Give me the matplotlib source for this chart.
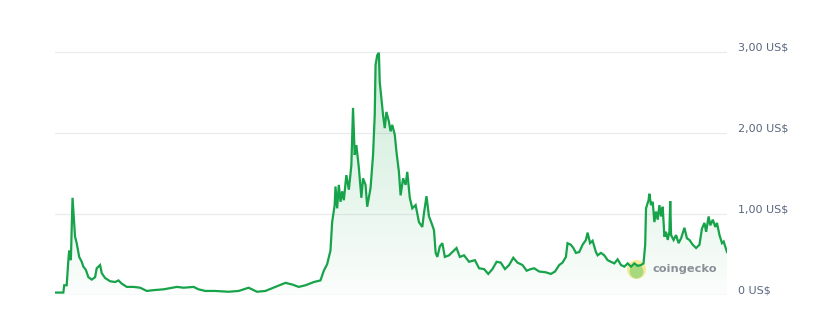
import numpy as np
import matplotlib.pyplot as plt
from matplotlib.transforms import blended_transform_factory

# price history (decimal year, price in US$)
years = [2017.80, 2017.90, 2017.91, 2017.94, 2017.96, 2017.97, 2017.99, 2018.01, 2018.03, 2018.04,
         2018.06, 2018.09, 2018.12, 2018.14, 2018.17, 2018.20, 2018.24, 2018.28, 2018.30, 2018.34,
         2018.36, 2018.40, 2018.46, 2018.52, 2018.56, 2018.60, 2018.66, 2018.74, 2018.82, 2018.90,
         2018.98, 2019.10, 2019.26, 2019.34, 2019.46, 2019.52, 2019.60, 2019.72, 2019.88, 2020.00,
         2020.12, 2020.22, 2020.32, 2020.44, 2020.56, 2020.64, 2020.72, 2020.80, 2020.90, 2020.98,
         2021.02, 2021.06, 2021.10, 2021.12, 2021.15, 2021.16, 2021.18, 2021.20, 2021.22, 2021.24,
         2021.26, 2021.29, 2021.32, 2021.35, 2021.37, 2021.39, 2021.41, 2021.44, 2021.47, 2021.49,
         2021.52, 2021.54, 2021.58, 2021.61, 2021.63, 2021.64, 2021.66, 2021.68, 2021.69, 2021.71,
         2021.73, 2021.75, 2021.77, 2021.80, 2021.82, 2021.84, 2021.87, 2021.89, 2021.92, 2021.94,
         2021.97, 2022.00, 2022.02, 2022.05, 2022.08, 2022.12, 2022.16, 2022.20, 2022.22, 2022.25,
         2022.28, 2022.31, 2022.34, 2022.36, 2022.38, 2022.41, 2022.44, 2022.47, 2022.52, 2022.56,
         2022.61, 2022.65, 2022.70, 2022.76, 2022.83, 2022.88, 2022.94, 2022.99, 2023.04, 2023.09,
         2023.14, 2023.19, 2023.24, 2023.29, 2023.34, 2023.40, 2023.45, 2023.50, 2023.54, 2023.60,
         2023.68, 2023.74, 2023.79, 2023.84, 2023.88, 2023.92, 2023.94, 2023.98, 2024.01, 2024.04,
         2024.08, 2024.12, 2024.16, 2024.18, 2024.21, 2024.24, 2024.28, 2024.30, 2024.34, 2024.38,
         2024.42, 2024.46, 2024.50, 2024.54, 2024.58, 2024.62, 2024.66, 2024.70, 2024.74, 2024.78,
         2024.82, 2024.85, 2024.87, 2024.88, 2024.91, 2024.92, 2024.94, 2024.96, 2024.98, 2025.00,
         2025.02, 2025.04, 2025.06, 2025.08, 2025.10, 2025.12, 2025.14, 2025.16, 2025.17, 2025.18,
         2025.21, 2025.24, 2025.27, 2025.30, 2025.34, 2025.37, 2025.40, 2025.44, 2025.48, 2025.52,
         2025.55, 2025.58, 2025.60, 2025.63, 2025.65, 2025.68, 2025.71, 2025.73, 2025.76, 2025.79,
         2025.81, 2025.84, 2025.85]
prices = [0.03, 0.03, 0.12, 0.12, 0.43, 0.55, 0.43, 1.20, 0.89, 0.72,
          0.64, 0.47, 0.41, 0.35, 0.31, 0.22, 0.19, 0.22, 0.33, 0.37,
          0.27, 0.21, 0.17, 0.16, 0.18, 0.14, 0.10, 0.10, 0.09, 0.05,
          0.06, 0.07, 0.10, 0.09, 0.10, 0.07, 0.05, 0.05, 0.04, 0.05,
          0.09, 0.04, 0.05, 0.10, 0.15, 0.13, 0.10, 0.12, 0.16, 0.18,
          0.30, 0.38, 0.55, 0.90, 1.11, 1.34, 1.07, 1.36, 1.15, 1.28,
          1.17, 1.48, 1.30, 1.60, 2.31, 1.73, 1.85, 1.57, 1.20, 1.44,
          1.36, 1.09, 1.32, 1.73, 2.22, 2.84, 2.96, 2.99, 2.63, 2.43,
          2.22, 2.06, 2.26, 2.14, 2.02, 2.10, 1.98, 1.77, 1.52, 1.23,
          1.44, 1.36, 1.52, 1.20, 1.07, 1.11, 0.90, 0.84, 1.01, 1.22,
          0.97, 0.89, 0.80, 0.52, 0.47, 0.60, 0.64, 0.47, 0.49, 0.53,
          0.58, 0.47, 0.49, 0.41, 0.43, 0.33, 0.32, 0.26, 0.32, 0.41,
          0.40, 0.32, 0.37, 0.46, 0.40, 0.37, 0.30, 0.32, 0.33, 0.29,
          0.28, 0.26, 0.29, 0.37, 0.40, 0.47, 0.64, 0.62, 0.58, 0.52,
          0.53, 0.62, 0.68, 0.77, 0.64, 0.67, 0.53, 0.49, 0.52, 0.49,
          0.43, 0.41, 0.39, 0.44, 0.37, 0.35, 0.39, 0.35, 0.39, 0.36,
          0.37, 0.39, 0.62, 1.07, 1.17, 1.25, 1.11, 1.15, 0.90, 1.03,
          0.93, 1.11, 0.97, 1.09, 0.72, 0.78, 0.68, 0.78, 1.16, 0.74,
          0.68, 0.74, 0.64, 0.70, 0.83, 0.70, 0.68, 0.62, 0.58, 0.62,
          0.82, 0.89, 0.78, 0.97, 0.86, 0.93, 0.84, 0.89, 0.74, 0.64,
          0.66, 0.56, 0.53]

yticks = [0, 1, 2, 3]
ylabels = ['0 US$', '1,00 US$', '2,00 US$', '3,00 US$']

green = '#16a34a'
x = np.array(years)
y = np.array(prices)

fig = plt.figure(figsize=(8.13, 3.32), dpi=100)
ax = fig.add_axes([55 / 813, 37 / 332, 672 / 813, 263.25 / 332])
ax.set_xlim(x[0], x[-1])
ax.set_ylim(0, 3.25)

# gridlines
for v in yticks:
    ax.axhline(v, color='#e9ecef' if v else '#e3e6ea', lw=0.9, zorder=0)

# gradient fill under the line
fill = ax.fill_between(x, y, 0, color='none', lw=0)
grad = np.linspace(0.02, 0.22, 256).reshape(-1, 1)
rgba = np.zeros((256, 1, 4))
rgba[..., 0] = 0.09
rgba[..., 1] = 0.64
rgba[..., 2] = 0.29
rgba[..., 3] = grad
img = ax.imshow(rgba, extent=[x[0], x[-1], 0, 3.0], origin='lower',
                aspect='auto', zorder=1)
img.set_clip_path(fill.get_paths()[0], transform=ax.transData)

ax.plot(x, y, color=green, lw=1.6, zorder=3, solid_joinstyle='miter')

# y labels on the right
tr = blended_transform_factory(ax.transAxes, ax.transData)
for v, lab in zip(yticks, ylabels):
    ax.text(1.017, v + 0.05, lab, transform=tr, va='center', ha='left',
            fontsize=8, color='#58667e')

# coingecko watermark (sits under the line)
ax.scatter([0.864], [0.098], s=190, color='#f6e88a', alpha=0.85, lw=0,
           transform=ax.transAxes, zorder=2)
ax.scatter([0.864], [0.092], s=100, color='#9fd87c', alpha=0.9, lw=0,
           transform=ax.transAxes, zorder=2)
ax.text(0.889, 0.098, 'coingecko', transform=ax.transAxes, fontsize=8.2,
        fontweight='bold', color='#8a8f98', va='center', ha='left', zorder=5)

ax.axis('off')
fig.savefig('out.png', dpi=100)
